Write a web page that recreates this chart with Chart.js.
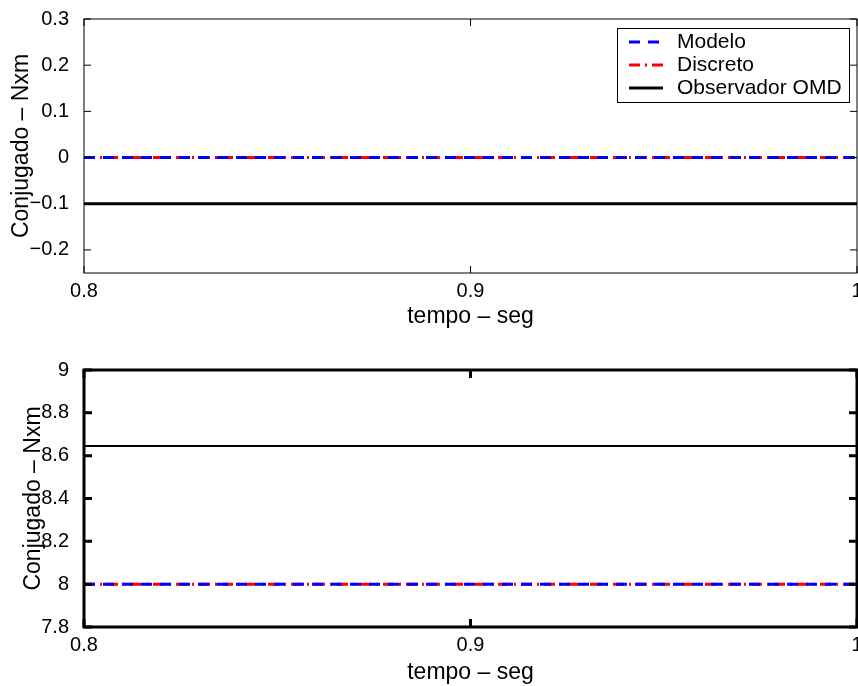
<!DOCTYPE html>
<html>
<head>
<meta charset="utf-8">
<script src="https://cdn.jsdelivr.net/npm/chart.js@4"></script>
<style>
  html, body { margin: 0; padding: 0; background: #fff; overflow: hidden; width: 858px; height: 686px; }
  #wrapTop { position: absolute; left: 0; top: 0; width: 870px; height: 330px; }
  #wrapBottom { position: absolute; left: 0; top: 330px; width: 870px; height: 356px; }
</style>
</head>
<body>
<div id="wrapTop"><canvas id="chartTop"></canvas></div>
<div id="wrapBottom"><canvas id="chartBottom"></canvas></div>
<script>
// data
const tempo = [0.8, 1.0];
const xTicks = [0.8, 0.9, 1];
const labels = ["Modelo", "Discreto", "Observador OMD"];

const topModelo = [0, 0];
const topDiscreto = [0, 0];
const topObservador = [-0.1, -0.1];
const topYTicks = [-0.2, -0.1, 0, 0.1, 0.2, 0.3];

const botModelo = [8, 8];
const botDiscreto = [8, 8];
const botObservador = [8.645, 8.645];
const botYTicks = [7.8, 8, 8.2, 8.4, 8.6, 8.8, 9];

const FONT = "'Liberation Sans', Arial, Helvetica, sans-serif";

function fmt(v) {
  const r = Math.round(v * 10) / 10;
  return r < 0 ? "\u2212" + Math.abs(r) : String(r);
}

function pts(ys) {
  return tempo.map((x, i) => ({ x: x, y: ys[i] }));
}

// MATLAB style box with inward ticks
const boxPlugin = {
  id: "box",
  afterDatasetsDraw(chart, args, opts) {
    const { ctx, chartArea: a, scales } = chart;
    ctx.save();
    ctx.strokeStyle = "#000";
    ctx.lineWidth = opts.width;
    ctx.strokeRect(a.left, a.top, a.right - a.left, a.bottom - a.top);
    ctx.beginPath();
    scales.x.ticks.forEach(t => {
      const px = scales.x.getPixelForValue(t.value);
      ctx.moveTo(px, a.bottom); ctx.lineTo(px, a.bottom - opts.len);
      ctx.moveTo(px, a.top); ctx.lineTo(px, a.top + opts.len);
    });
    scales.y.ticks.forEach(t => {
      const py = scales.y.getPixelForValue(t.value);
      ctx.moveTo(a.left, py); ctx.lineTo(a.left + opts.len, py);
      ctx.moveTo(a.right, py); ctx.lineTo(a.right - opts.len, py);
    });
    ctx.stroke();
    ctx.restore();
  }
};

// legend drawn inside the plot, top right
const insideLegend = {
  id: "insideLegend",
  afterDraw(chart, args, opts) {
    if (!opts.show) return;
    const { ctx, chartArea: a } = chart;
    const w = 232, h = 74;
    const left = a.right - 8 - w, top = a.top + 9;
    ctx.save();
    ctx.fillStyle = "#fff";
    ctx.fillRect(left, top, w, h);
    ctx.strokeStyle = "#000";
    ctx.lineWidth = 1;
    ctx.strokeRect(left + 0.5, top + 0.5, w, h);
    ctx.font = "21px " + FONT;
    ctx.textBaseline = "middle";
    ctx.fillStyle = "#000";
    chart.data.datasets.forEach((ds, i) => {
      const y = top + 14 + i * 23;
      ctx.beginPath();
      ctx.strokeStyle = ds.borderColor;
      ctx.lineWidth = ds.borderWidth;
      ctx.setLineDash(ds.borderDash || []);
      ctx.moveTo(left + 12, y);
      ctx.lineTo(left + 46, y);
      ctx.stroke();
      ctx.setLineDash([]);
      ctx.fillText(ds.label, left + 60, y);
    });
    ctx.restore();
  }
};

function makeChart(id, series, yTicks, yMin, yMax, cfg) {
  const ctx = document.getElementById(id).getContext("2d");
  return new Chart(ctx, {
    type: "line",
    data: {
      datasets: [
        { label: labels[0], data: pts(series[0]), borderColor: "#0000ff", borderWidth: 3, borderDash: [11, 8] },
        { label: labels[1], data: pts(series[1]), borderColor: "#ff0000", borderWidth: 3, borderDash: [11, 5, 2, 5] },
        { label: labels[2], data: pts(series[2]), borderColor: "#000000", borderWidth: cfg.obsWidth }
      ]
    },
    options: {
      responsive: true,
      maintainAspectRatio: false,
      animation: false,
      layout: { padding: { top: cfg.padTop, right: 13, left: 0, bottom: 0 } },
      elements: { point: { radius: 0 }, line: { tension: 0 } },
      plugins: {
        legend: { display: false },
        tooltip: { enabled: false },
        box: { width: cfg.boxWidth, len: cfg.tickLen },
        insideLegend: { show: cfg.legend }
      },
      scales: {
        x: {
          type: "linear",
          min: 0.8,
          max: 1.0,
          afterBuildTicks: s => { s.ticks = xTicks.map(v => ({ value: v })); },
          afterFit: s => { s.height = cfg.xHeight; },
          grid: { display: false },
          border: { display: false },
          ticks: { color: "#000", font: { family: FONT, size: 20 }, padding: -2, maxRotation: 0, autoSkip: false, callback: fmt },
          title: { display: true, text: "tempo \u2013 seg", color: "#000", font: { family: FONT, size: 23 }, padding: { top: 0, bottom: 0 } }
        },
        y: {
          min: yMin,
          max: yMax,
          afterBuildTicks: s => { s.ticks = yTicks.map(v => ({ value: v })); },
          afterFit: s => { s.width = 84; },
          grid: { display: false },
          border: { display: false },
          ticks: { color: "#000", font: { family: FONT, size: 20 }, padding: 7, autoSkip: false, callback: fmt },
          title: { display: true, text: "Conjugado \u2013 Nxm", color: "#000", font: { family: FONT, size: 23 }, padding: { top: cfg.yTitlePad, bottom: 0 } }
        }
      }
    },
    plugins: [boxPlugin, insideLegend]
  });
}

makeChart("chartTop", [topModelo, topDiscreto, topObservador], topYTicks, -0.25, 0.3,
  { padTop: 15, xHeight: 57, boxWidth: 1, tickLen: 7, obsWidth: 3, legend: true, yTitlePad: 8 });
makeChart("chartBottom", [botModelo, botDiscreto, botObservador], botYTicks, 7.8, 9,
  { padTop: 40, xHeight: 59, boxWidth: 3, tickLen: 8, obsWidth: 2, legend: false, yTitlePad: 20 });
</script>
</body>
</html>
